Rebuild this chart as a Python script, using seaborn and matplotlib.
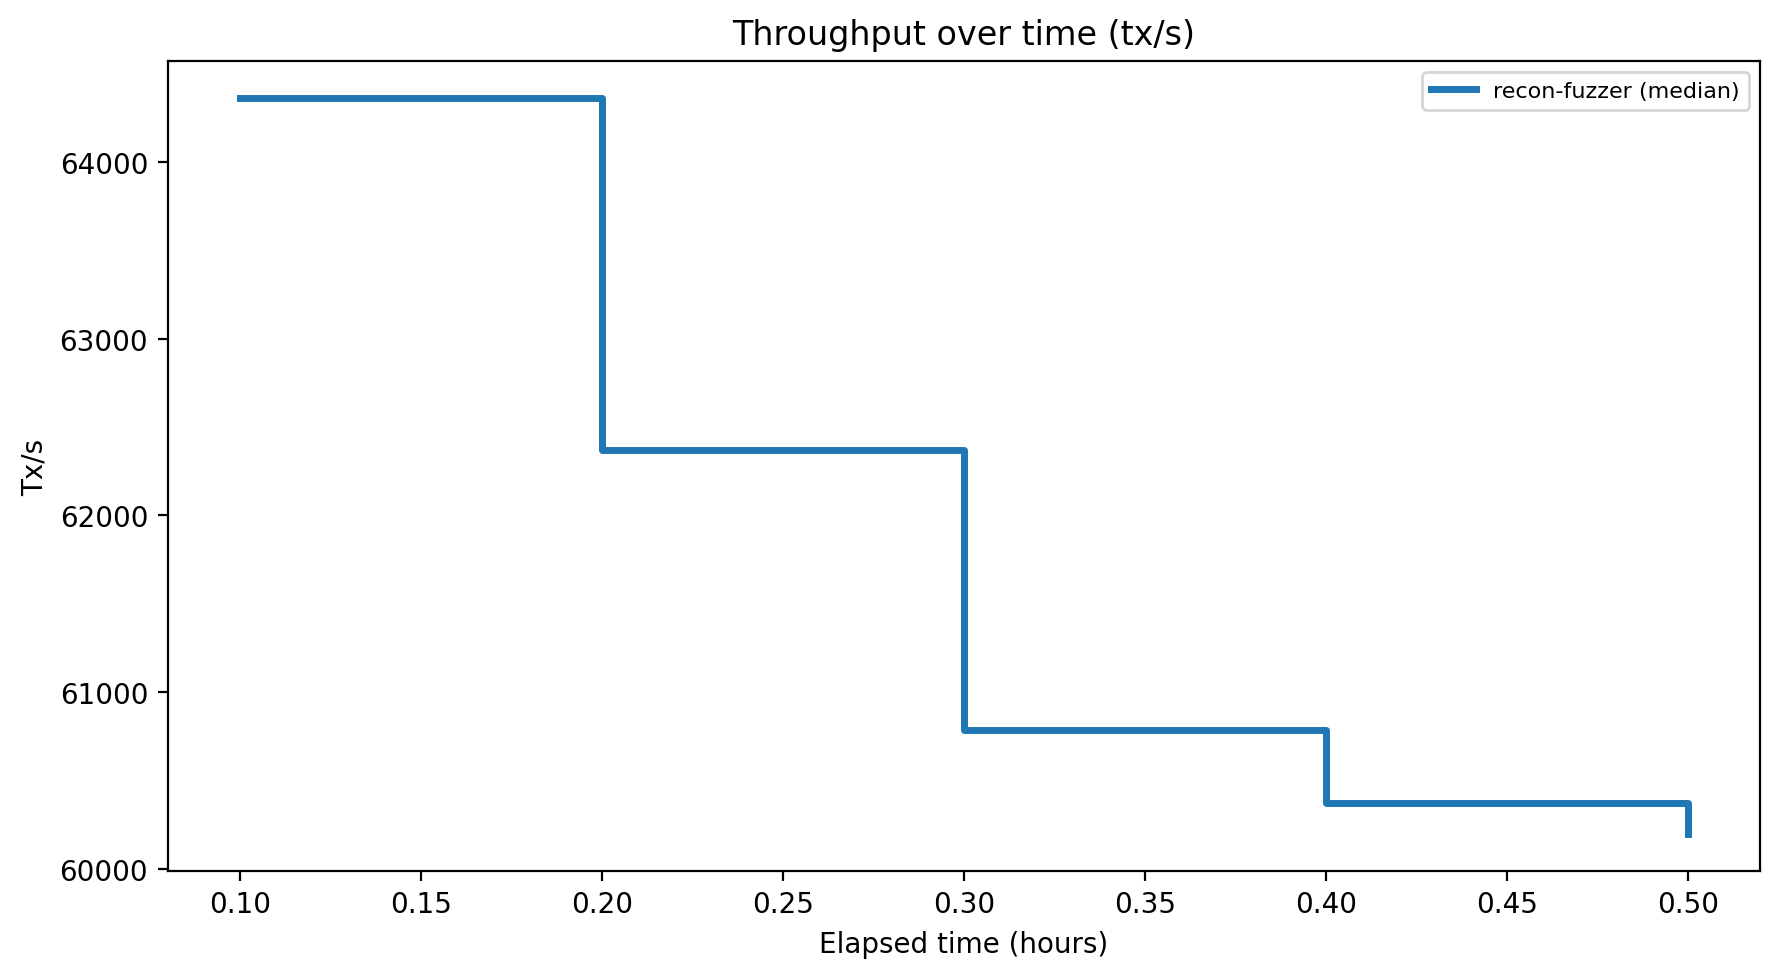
import matplotlib
matplotlib.use("Agg")
import matplotlib.pyplot as plt
import seaborn as sns
import pandas as pd

hours = [0.1, 0.2, 0.3, 0.4, 0.5]
tx_per_s = [64362, 62372, 60787, 60374, 60196]
series_label = "recon-fuzzer (median)"

df = pd.DataFrame({"hours": hours, "tx": tx_per_s})

DPI = 200
fig, ax = plt.subplots(figsize=(1780 / DPI, 978 / DPI), dpi=DPI)
sns.lineplot(data=df, x="hours", y="tx", ax=ax, drawstyle="steps-post",
             linewidth=2.5, color="#1f77b4", label=series_label)
ax.set_title("Throughput over time (tx/s)")
ax.set_xlabel("Elapsed time (hours)")
ax.set_ylabel("Tx/s")
ax.legend(loc="upper right", fontsize=8)
fig.subplots_adjust(left=0.0942, right=0.9888, top=0.9366, bottom=0.1084)
fig.savefig("out.png", dpi=DPI)
